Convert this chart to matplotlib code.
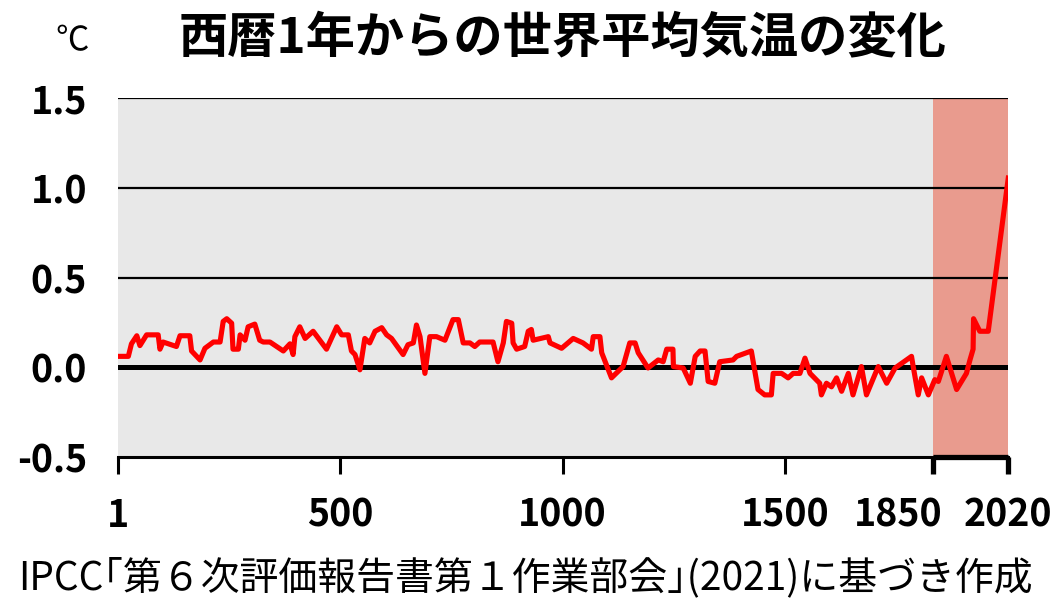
import numpy as np
import matplotlib
matplotlib.use("Agg")
import matplotlib.pyplot as plt
from matplotlib.transforms import ScaledTranslation

years = [1, 25, 32, 44, 51, 66, 92, 96, 103, 133, 141, 163, 167, 186, 197, 216, 231, 238, 246, 257,
         260, 272, 276, 287, 294, 309, 320, 328, 343, 373, 388, 395, 399, 410, 422, 440, 470, 493, 504, 519,
         526, 534, 545, 556, 567, 579, 594, 605, 616, 642, 653, 665, 672, 680, 691, 702, 717, 736, 754, 766,
         777, 792, 803, 814, 844, 855, 867, 874, 886, 889, 897, 915, 923, 930, 934, 968, 972, 998, 1024, 1046,
         1065, 1069, 1084, 1088, 1110, 1136, 1151, 1163, 1170, 1192, 1215, 1226, 1234, 1248, 1249, 1271, 1287, 1298, 1309, 1320,
         1327, 1342, 1353, 1383, 1391, 1424, 1439, 1454, 1469, 1473, 1492, 1507, 1519, 1535, 1547, 1559, 1582, 1586, 1598, 1610,
         1622, 1634, 1650, 1661, 1681, 1693, 1721, 1741, 1761, 1800, 1804, 1816, 1824, 1840, 1855, 1863, 1881, 1904, 1926, 1934,
         1941, 1942, 1956, 1975, 2020]
temps = [0.06, 0.06, 0.13, 0.175, 0.12, 0.18, 0.18, 0.10, 0.14, 0.115, 0.175, 0.175, 0.09, 0.04, 0.105, 0.14, 0.14, 0.255, 0.27, 0.245,
         0.10, 0.10, 0.18, 0.15, 0.225, 0.24, 0.15, 0.14, 0.14, 0.09, 0.13, 0.07, 0.17, 0.225, 0.16, 0.20, 0.10, 0.225, 0.18, 0.18,
         0.09, 0.07, -0.015, 0.16, 0.135, 0.20, 0.22, 0.18, 0.16, 0.07, 0.125, 0.135, 0.235, 0.17, -0.035, 0.17, 0.17, 0.15, 0.265, 0.265,
         0.135, 0.135, 0.115, 0.14, 0.14, 0.03, 0.135, 0.255, 0.245, 0.135, 0.10, 0.115, 0.20, 0.21, 0.15, 0.17, 0.135, 0.105, 0.16, 0.135,
         0.10, 0.17, 0.17, 0.08, -0.06, 0.003, 0.135, 0.135, 0.08, -0.005, 0.04, 0.03, 0.10, 0.10, 0.003, -0.005, -0.09, 0.06, 0.09, 0.09,
         -0.08, -0.09, 0.03, 0.04, 0.06, 0.09, -0.125, -0.155, -0.155, -0.035, -0.035, -0.06, -0.035, -0.035, 0.05, -0.035, -0.09, -0.155, -0.09, -0.11,
         -0.06, -0.135, -0.035, -0.155, 0.003, -0.155, 0.003, -0.09, -0.005, 0.06, 0.003, -0.155, -0.06, -0.155, -0.07, -0.08, 0.06, -0.125, -0.035, 0.04,
         0.10, 0.27, 0.20, 0.20, 1.055]

xticks = [1, 500, 1000, 1500, 1850, 2020]
xticklabels = ["1", "500", "1000", "1500", "1850", "2020"]
yticks = [-0.5, 0.0, 0.5, 1.0, 1.5]
yticklabels = ["-0.5", "0.0", "0.5", "1.0", "1.5"]

title = "西暦1年からの世界平均気温の変化"
unit = "℃"
caption = "IPCC｢第６次評価報告書第１作業部会｣(2021)に基づき作成"

FONT = ["Noto Sans CJK JP", "DejaVu Sans"]
plt.rcParams["font.family"] = FONT

# piecewise axis (the reference compresses 1500-1850 slightly)
_src = [1, 1500, 1850, 2020]
_dst = [1, 1500, 1831, 2001]
def fwd(x):
    return np.interp(x, _src, _dst)
def inv(x):
    return np.interp(x, _dst, _src)

DPI = 100
fig = plt.figure(figsize=(10.59, 6.0), dpi=DPI)
ax = fig.add_axes([0.1111, 0.2388, 0.9521 - 0.1111, 0.8362 - 0.2388])
ax.set_xscale("function", functions=(fwd, inv))
ax.set_xlim(1, 2020)
ax.set_ylim(-0.5, 1.5)

ax.set_facecolor("#e8e8e8")
ax.axvspan(1850, 2020, color="#e99b8e", zorder=1, lw=0)

for v in [0.5, 1.0, 1.5]:
    ax.axhline(v, color="black", lw=1.6, zorder=2)
ax.axhline(0.0, color="black", lw=3.6, zorder=2)

ax.plot(years, temps, color="#ff0000", lw=3.7, zorder=3)

for s in ["top", "right", "left"]:
    ax.spines[s].set_visible(False)
ax.spines["bottom"].set_linewidth(2.2)
ax.spines["bottom"].set_zorder(4)
ax.hlines(-0.5, 1850, 2020, color="black", lw=3.8, zorder=5, clip_on=False)

ax.set_xticks(xticks)
ax.set_xticklabels(xticklabels, fontsize=27, fontweight="bold")
ax.tick_params(axis="x", length=12, width=2.2, direction="out", pad=16)
ticks = ax.xaxis.get_major_ticks()
for t in ticks[4:]:
    t.tick1line.set_markeredgewidth(3.8)
labs = ax.get_xticklabels()
labs[4].set_transform(labs[4].get_transform() + ScaledTranslation(-34 / DPI, 0, fig.dpi_scale_trans))

ax.set_yticks(yticks)
ax.set_yticklabels(yticklabels, fontsize=27, fontweight="bold")
ax.tick_params(axis="y", length=0, pad=22)

fig.text(0.531, 0.935, title, fontsize=35.5, fontweight="bold", ha="center", va="center")
fig.text(0.068, 0.932, unit, fontsize=24, ha="center", va="center")
fig.text(0.496, 0.037, caption, fontsize=28, ha="center", va="center")

fig.savefig("out.png", dpi=DPI)
